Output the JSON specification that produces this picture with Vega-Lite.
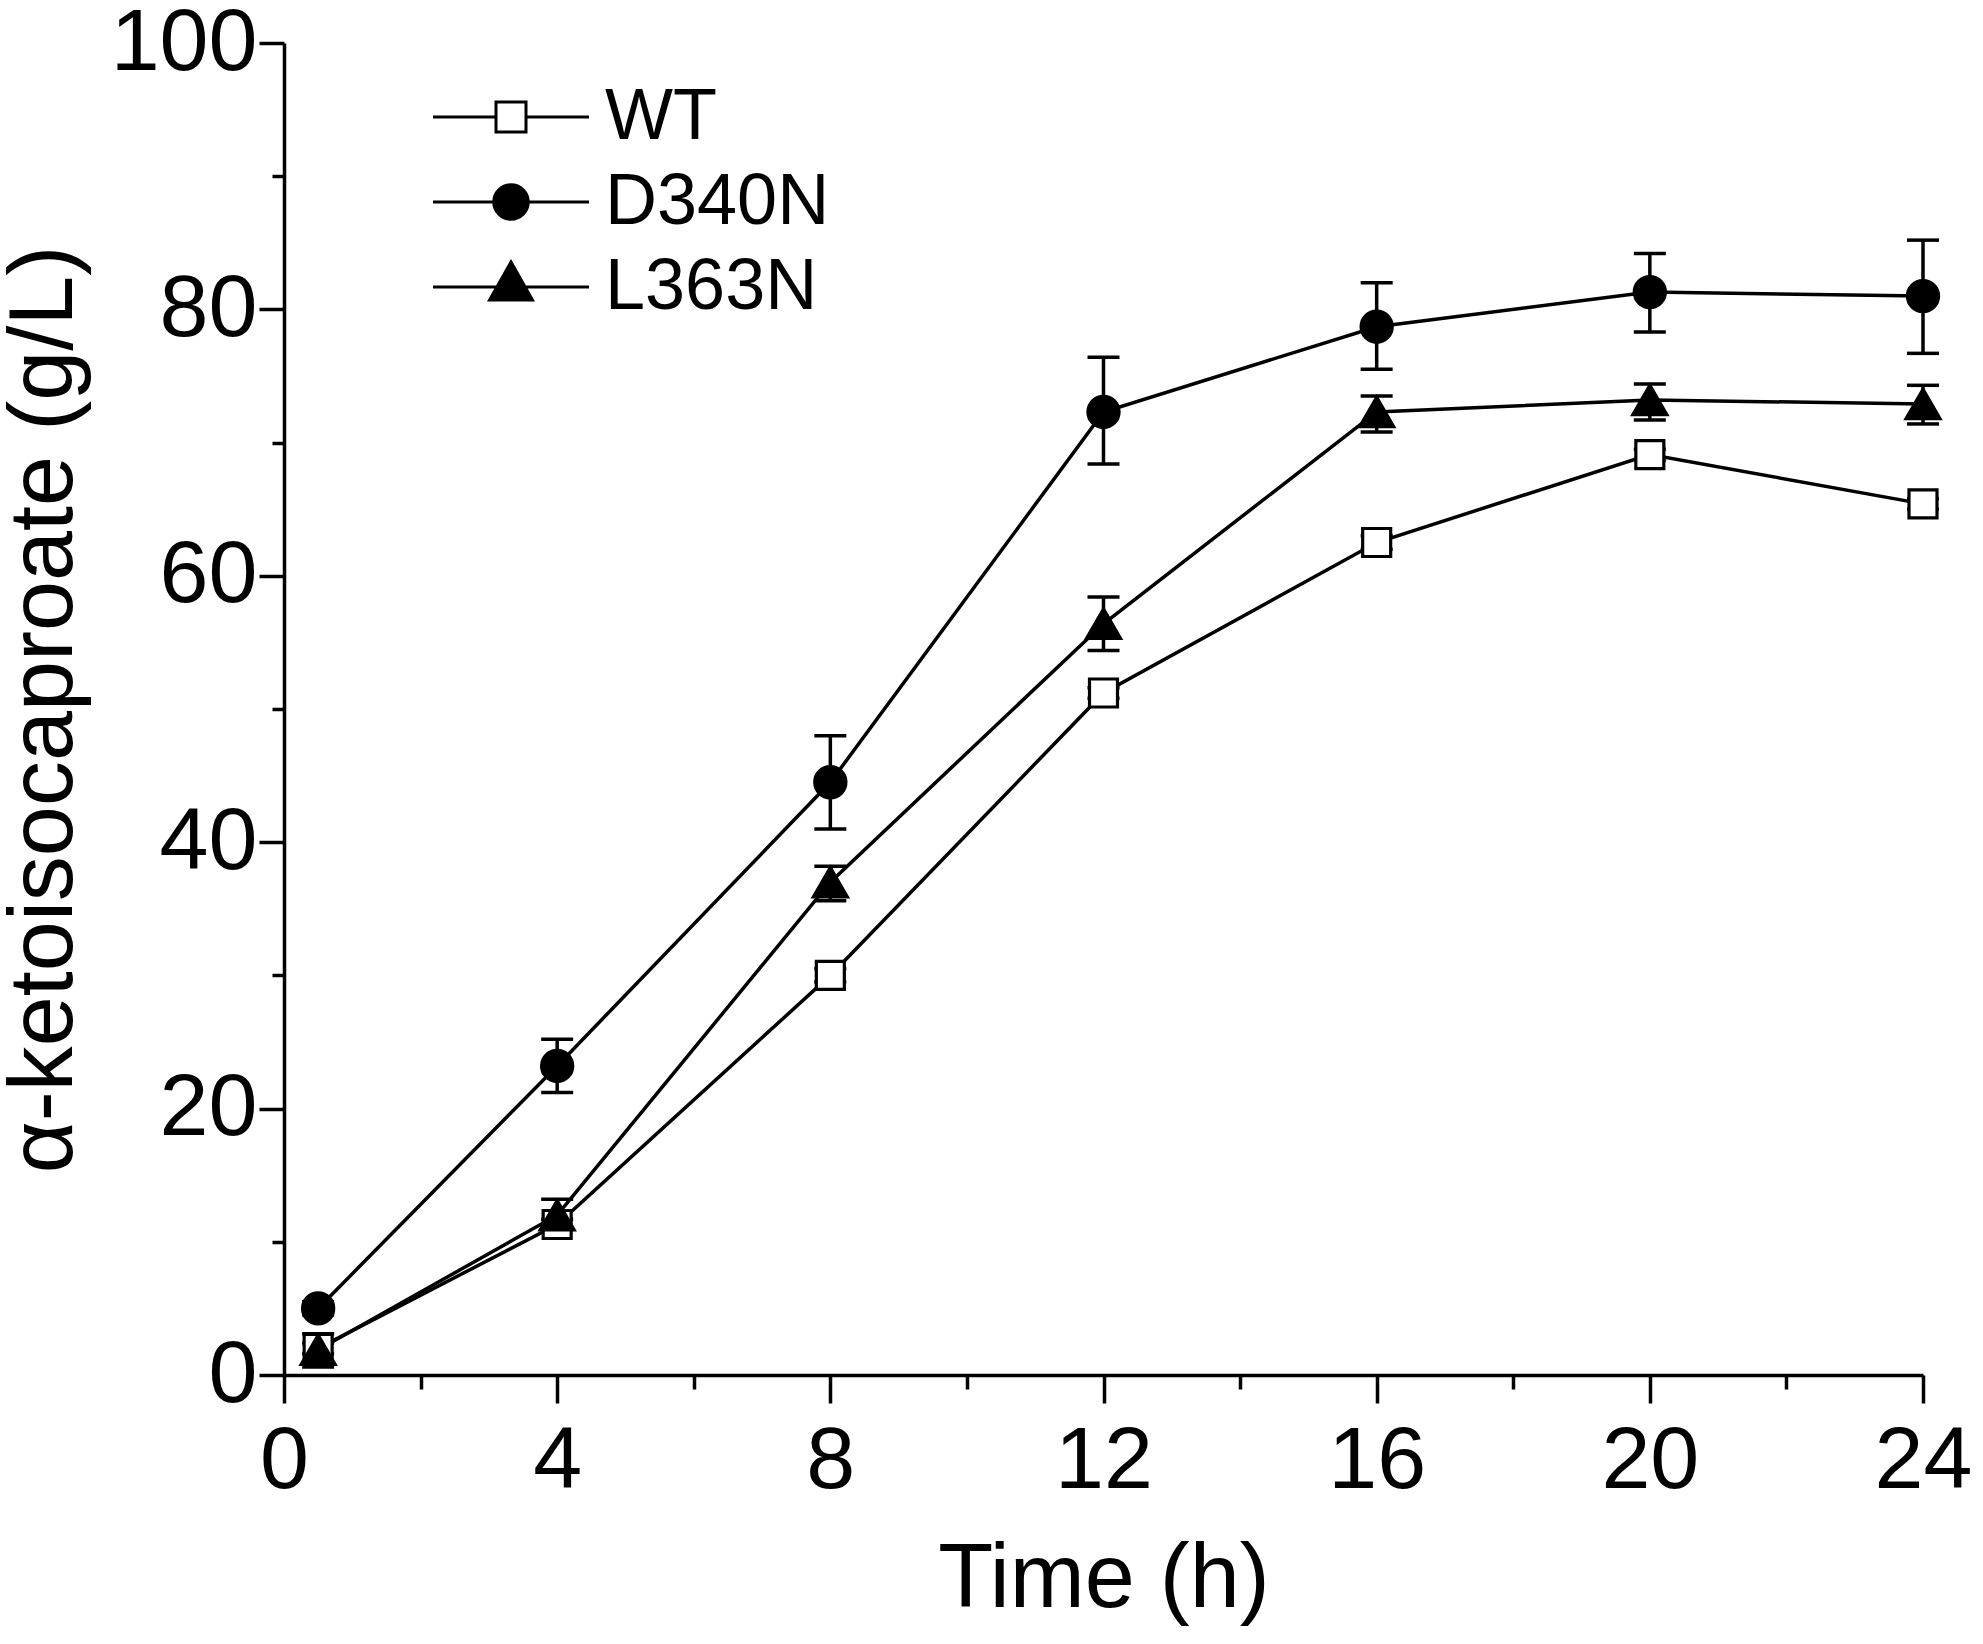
{
  "$schema": "https://vega.github.io/schema/vega-lite/v6.json",
  "autosize": "none",
  "padding": {"left": 284, "top": 43, "right": 60, "bottom": 269},
  "width": 1639,
  "height": 1332,
  "background": "white",
  "config": {
    "view": {"stroke": null},
    "font": "Liberation Sans",
    "axis": {
      "grid": false,
      "domainColor": "black",
      "domainWidth": 3.5,
      "tickColor": "black",
      "tickWidth": 3.5,
      "labelColor": "black",
      "labelFont": "Liberation Sans",
      "labelFontSize": 88,
      "titleColor": "black",
      "titleFont": "Liberation Sans",
      "titleFontSize": 90,
      "titleFontWeight": "normal",
      "labelOverlap": false,
      "labelFlush": false,
      "labelBound": false
    },
    "legend": {
      "title": null,
      "orient": "none",
      "legendX": 191,
      "legendY": 38,
      "padding": 0,
      "labelFont": "Liberation Sans",
      "labelFontSize": 72,
      "labelColor": "black",
      "labelLimit": 0,
      "labelOffset": 58,
      "rowPadding": 13,
      "symbolSize": 900,
      "symbolStrokeColor": "black",
      "symbolStrokeWidth": 3,
      "symbolOpacity": 1
    }
  },
  "data": {
    "values": [
      {"strain": "WT", "time": 0.5, "value": 2.0, "lo": 1.6, "hi": 2.4},
      {"strain": "WT", "time": 4, "value": 11.3, "lo": 10.9, "hi": 11.7},
      {"strain": "WT", "time": 8, "value": 30.0, "lo": 29.5, "hi": 30.5},
      {"strain": "WT", "time": 12, "value": 51.2, "lo": 50.8, "hi": 51.6},
      {"strain": "WT", "time": 16, "value": 62.5, "lo": 62.0, "hi": 63.0},
      {"strain": "WT", "time": 20, "value": 69.1, "lo": 68.7, "hi": 69.5},
      {"strain": "WT", "time": 24, "value": 65.4, "lo": 65.0, "hi": 65.8},
      {"strain": "D340N", "time": 0.5, "value": 5.0, "lo": 4.5, "hi": 5.5},
      {"strain": "D340N", "time": 4, "value": 23.2, "lo": 21.2, "hi": 25.2},
      {"strain": "D340N", "time": 8, "value": 44.5, "lo": 41.0, "hi": 48.0},
      {"strain": "D340N", "time": 12, "value": 72.3, "lo": 68.4, "hi": 76.4},
      {"strain": "D340N", "time": 16, "value": 78.7, "lo": 75.5, "hi": 82.0},
      {"strain": "D340N", "time": 20, "value": 81.3, "lo": 78.3, "hi": 84.2},
      {"strain": "D340N", "time": 24, "value": 81.0, "lo": 76.7, "hi": 85.2},
      {"strain": "L363N", "time": 0.5, "value": 1.9, "lo": 0.6, "hi": 3.1},
      {"strain": "L363N", "time": 4, "value": 12.0, "lo": 11.0, "hi": 13.2},
      {"strain": "L363N", "time": 8, "value": 37.0, "lo": 35.6, "hi": 38.2},
      {"strain": "L363N", "time": 12, "value": 56.4, "lo": 54.4, "hi": 58.4},
      {"strain": "L363N", "time": 16, "value": 72.3, "lo": 70.8, "hi": 73.5},
      {"strain": "L363N", "time": 20, "value": 73.2, "lo": 71.7, "hi": 74.4},
      {"strain": "L363N", "time": 24, "value": 72.9, "lo": 71.4, "hi": 74.3}
    ]
  },
  "resolve": {"scale": {"shape": "independent", "fill": "independent", "size": "independent", "stroke": "independent"}},
  "layer": [
    {
      "mark": {"type": "errorbar", "color": "black", "opacity": 1, "thickness": 3.5, "ticks": {"size": 32, "thickness": 3.5, "color": "black", "opacity": 1}},
      "encoding": {
        "x": {"field": "time", "type": "quantitative", "scale": {"domain": [0, 24], "nice": false}, "title": "Time (h)"},
        "y": {"field": "lo", "type": "quantitative", "scale": {"domain": [0, 100], "nice": false}, "title": "α-ketoisocaproate (g/L)"},
        "y2": {"field": "hi"}
      }
    },
    {
      "mark": {"type": "line", "color": "black", "strokeWidth": 3.5},
      "encoding": {
        "x": {"field": "time", "type": "quantitative", "title": "Time (h)"},
        "y": {"field": "value", "type": "quantitative", "title": "α-ketoisocaproate (g/L)"},
        "detail": {"field": "strain"}
      }
    },
    {
      "mark": {"type": "point", "filled": true, "stroke": "black", "strokeWidth": 3.2, "opacity": 1},
      "encoding": {
        "x": {
          "field": "time", "type": "quantitative", "title": "Time (h)",
          "axis": {
            "values": [0, 2, 4, 6, 8, 10, 12, 14, 16, 18, 20, 22, 24],
            "labelExpr": "datum.value % 4 === 0 ? format(datum.value, 'd') : ''",
            "tickSize": {"condition": {"test": "datum.value % 4 === 0", "value": 28}, "value": 14},
            "labelPadding": 14,
            "titlePadding": 30
          }
        },
        "y": {
          "field": "value", "type": "quantitative", "title": "α-ketoisocaproate (g/L)",
          "axis": {
            "values": [0, 10, 20, 30, 40, 50, 60, 70, 80, 90, 100],
            "labelExpr": "datum.value % 20 === 0 ? format(datum.value, 'd') : ''",
            "tickSize": {"condition": {"test": "datum.value % 20 === 0", "value": 25}, "value": 12},
            "labelPadding": 2,
            "titlePadding": 20
          }
        },
        "shape": {
          "field": "strain", "type": "nominal",
          "scale": {"domain": ["WT", "D340N", "L363N"], "range": ["square", "circle", "triangle-up"]},
          "legend": null
        },
        "fill": {
          "field": "strain", "type": "nominal",
          "scale": {"domain": ["WT", "D340N", "L363N"], "range": ["white", "black", "black"]},
          "legend": null
        },
        "size": {
          "field": "strain", "type": "nominal",
          "scale": {"domain": ["WT", "D340N", "L363N"], "range": [784, 1156, 1700]},
          "legend": null
        }
      }
    },
    {
      "transform": [{"filter": "datum.time < 0"}],
      "mark": {"type": "point", "filled": true, "strokeWidth": 3, "opacity": 1},
      "encoding": {
        "x": {"field": "time", "type": "quantitative", "title": "Time (h)"},
        "y": {"field": "value", "type": "quantitative", "title": "α-ketoisocaproate (g/L)"},
        "shape": {
          "field": "strain", "type": "nominal",
          "scale": {
            "domain": ["WT", "D340N", "L363N"],
            "range": [
              "M-5.2,0H-1M1,0H5.2M-1,-1H1V1H-1Z",
              "M-5.2,0H-1.15M1.15,0H5.2M-1.15,0A1.15,1.15,0,1,1,1.15,0A1.15,1.15,0,1,1,-1.15,0Z",
              "M-5.2,0H5.2M0,-1.67L1.43,0.87L-1.43,0.87Z"
            ]
          }
        },
        "fill": {
          "field": "strain", "type": "nominal",
          "scale": {"domain": ["WT", "D340N", "L363N"], "range": ["white", "black", "black"]}
        },
        "stroke": {
          "field": "strain", "type": "nominal",
          "scale": {"domain": ["WT", "D340N", "L363N"], "range": ["black", "black", "black"]}
        }
      }
    }
  ]
}
